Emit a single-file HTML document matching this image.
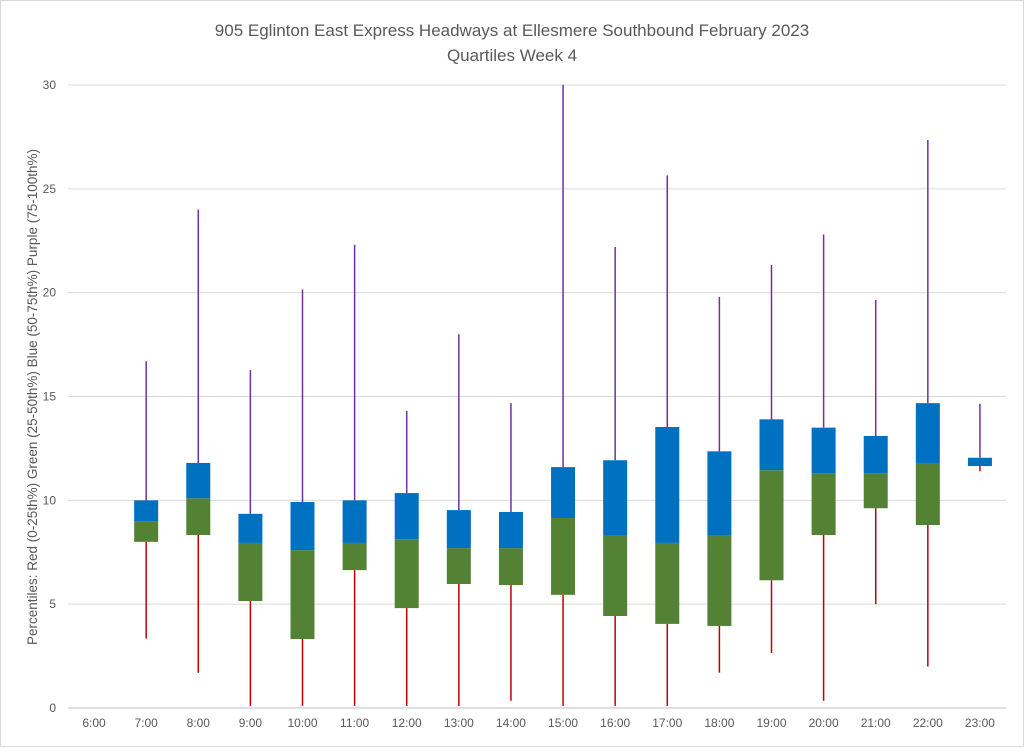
<!DOCTYPE html>
<html><head><meta charset="utf-8"><style>
body{margin:0;background:#fff;}
svg text{font-family:"Liberation Sans",sans-serif;}
</style></head><body>
<svg id="chart" width="1024" height="747" xmlns="http://www.w3.org/2000/svg">
<rect x="0.5" y="0.5" width="1023" height="746" fill="#fff" stroke="#d9d9d9"/>
<text x="512" y="36" text-anchor="middle" font-size="17" fill="#595959">905 Eglinton East Express Headways at Ellesmere Southbound February 2023</text>
<text x="512" y="61" text-anchor="middle" font-size="17" fill="#595959">Quartiles Week 4</text>
<text transform="translate(37,397) rotate(-90)" text-anchor="middle" font-size="13.5" fill="#595959">Percentiles:  Red (0-25th%)  Green (25-50th%)  Blue (50-75th%)  Purple (75-100th%)</text>
<g id="grid"></g><g id="marks"></g><g id="labels"></g>
</svg>
<script>
const categories=["6:00","7:00","8:00","9:00","10:00","11:00","12:00","13:00","14:00","15:00","16:00","17:00","18:00","19:00","20:00","21:00","22:00","23:00"];
const minVals=[null,3.35,1.7,0.1,0.1,0.1,0.1,0.1,0.35,0.1,0.1,0.1,1.7,2.65,0.35,5.0,2.0,11.4];
const q1Vals=[null,8.0,8.33,5.15,3.32,6.64,4.81,5.97,5.92,5.45,4.43,4.05,3.95,6.15,8.33,9.62,8.81,11.65];
const medVals=[null,9.0,10.1,7.95,7.6,7.95,8.13,7.7,7.7,9.15,8.33,7.95,8.3,11.45,11.3,11.3,11.8,11.65];
const q3Vals=[null,10.0,11.8,9.35,9.92,10.0,10.35,9.53,9.44,11.6,11.93,13.53,12.36,13.9,13.5,13.1,14.68,12.05];
const maxVals=[null,16.7,24.0,16.27,20.15,22.3,14.3,18.0,14.68,30.0,22.2,25.65,19.8,21.33,22.8,19.65,27.35,14.65];
const yTicks=[0,5,10,15,20,25,30];
const NS="http://www.w3.org/2000/svg";
const L=68,R=1006,T=85,B=708,yMax=30;
const y=v=>B-(v/yMax)*(B-T);
const bw=(R-L)/categories.length;
const x=i=>L+bw*(i+0.5);
function mk(tag,attrs,parent){const e=document.createElementNS(NS,tag);for(const k in attrs)e.setAttribute(k,attrs[k]);document.getElementById(parent).appendChild(e);return e;}
yTicks.forEach(t=>{
  const g=mk('line',{x1:L,x2:R,y1:y(t),y2:y(t),stroke:t===0?'#bfbfbf':'#d9d9d9','stroke-width':1},'grid');
  
  
  const tx=mk('text',{x:56,y:y(t)+4,'text-anchor':'end','font-size':12,fill:'#595959'},'labels');
  tx.textContent=t;
  
  
});
categories.forEach((c,i)=>{
  const tx=mk('text',{x:x(i),y:727,'text-anchor':'middle','font-size':12,fill:'#595959'},'labels');
  tx.textContent=c;
  
  
  if(minVals[i]==null)return;
  const cx=x(i),w=24;
  const lr=mk('line',{x1:cx,x2:cx,y1:y(minVals[i]),y2:y(q1Vals[i]),stroke:'#c00000','stroke-width':1.5},'marks');
  
  
  const lp=mk('line',{x1:cx,x2:cx,y1:y(q3Vals[i]),y2:y(maxVals[i]),stroke:'#7030a0','stroke-width':1.5},'marks');
  
  
  const g=mk('rect',{x:cx-w/2,y:y(medVals[i]),width:w,height:Math.max(0,y(q1Vals[i])-y(medVals[i])),fill:'#548235'},'marks');
  
  
  const b=mk('rect',{x:cx-w/2,y:y(q3Vals[i]),width:w,height:Math.max(0,y(medVals[i])-y(q3Vals[i])),fill:'#0070c0'},'marks');
  
  
});
</script>
</body></html>
